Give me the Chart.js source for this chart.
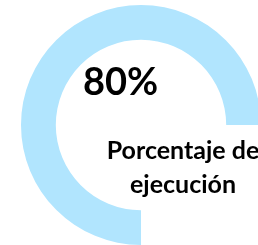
<!DOCTYPE html>
<html>
<head>
<meta charset="utf-8">
<script src="https://cdn.jsdelivr.net/npm/chart.js@4"></script>
<style>
    html, body { margin: 0; padding: 0; background: #fff; overflow: hidden; width: 258px; height: 245px; }
    .chart-box { position: absolute; left: 0; top: 0; width: 282px; height: 250px; }
    .label { position: absolute; font-family: Lato, sans-serif; font-weight: 700; color: #000; white-space: nowrap; }
    #value { left: 83px; top: 58px; font-size: 38px; line-height: 44px; }
    #caption { left: 83px; width: 200px; top: 132px; font-size: 25px; line-height: 34px; text-align: center; }
</style>
</head>
<body>
<div class="chart-box"><canvas id="chart1"></canvas></div>
<div class="label" id="value"></div>
<div class="label" id="caption"></div>
<script>
const labels = ['Ejecutado', 'Pendiente'];
const values = [80, 20];
const captionLines = ['Porcentaje de', 'ejecución'];

document.getElementById('value').textContent = values[0] + '%';
document.getElementById('caption').innerHTML = captionLines.join('<br>');

// el arco visible cubre 3/4 de vuelta, el 80% se estira a 270 grados
new Chart(document.getElementById('chart1'), {
    type: 'doughnut',
    data: {
        labels: labels,
        datasets: [{
            data: values,
            backgroundColor: ['#b1e5fe', 'rgba(0,0,0,0)'],
            borderWidth: 0,
            hoverOffset: 0,
        }],
    },
    options: {
        responsive: true,
        maintainAspectRatio: false,
        animation: false,
        rotation: 180,
        circumference: 270 / 0.8,
        cutout: '71%',
        layout: { padding: 5 },
        plugins: { legend: { display: false }, tooltip: { enabled: false } },
    },
});
</script>
</body>
</html>
